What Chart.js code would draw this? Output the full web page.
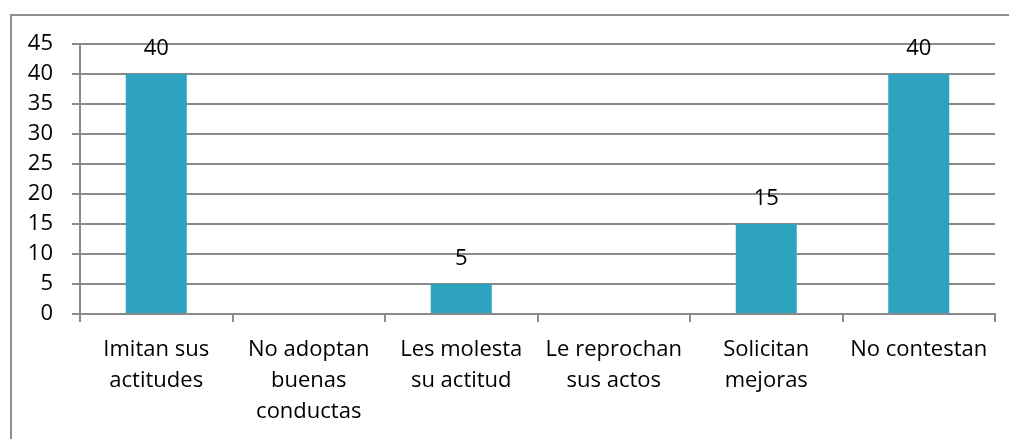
<!DOCTYPE html>
<html>
<head>
<meta charset="utf-8">
<script src="https://cdn.jsdelivr.net/npm/chart.js@4/dist/chart.umd.min.js"></script>
<style>
  html, body { margin: 0; padding: 0; background: #fff; overflow: hidden; }
  #wrap { position: relative; width: 1009px; height: 439px; }
  #frame { position: absolute; left: 10px; top: 14px; width: 1100px; height: 600px;
           border: 2px solid #8e8e8e; pointer-events: none; box-sizing: border-box; }
</style>
</head>
<body>
<div id="wrap">
  <canvas id="chart" width="1009" height="439"></canvas>
  <div id="frame"></div>
</div>
<script>
// categories (multi-line labels as in the original)
const categories = [
  ['Imitan sus', 'actitudes'],
  ['No adoptan', 'buenas', 'conductas'],
  ['Les molesta', 'su actitud'],
  ['Le reprochan', 'sus actos'],
  ['Solicitan', 'mejoras'],
  ['No contestan']
];
const values = [40, 0, 5, 0, 15, 40];
const yTicks = [0, 5, 10, 15, 20, 25, 30, 35, 40, 45];

const FONT = "'Open Sans', 'Noto Sans', sans-serif";
const FSIZE = 22;
const GRID = '#8a8a8a';

// value labels above bars (zeros are not shown)
const barLabels = {
  id: 'barLabels',
  afterDatasetsDraw(chart) {
    const ctx = chart.ctx;
    const meta = chart.getDatasetMeta(0);
    ctx.save();
    ctx.font = FSIZE + 'px ' + FONT;
    ctx.fillStyle = '#000';
    ctx.textAlign = 'center';
    ctx.textBaseline = 'middle';
    meta.data.forEach((bar, i) => {
      const v = chart.data.datasets[0].data[i];
      if (!v) return;
      ctx.fillText(String(v), bar.x, bar.y - 25);
    });
    ctx.restore();
  }
};

new Chart(document.getElementById('chart').getContext('2d'), {
  type: 'bar',
  data: {
    labels: categories,
    datasets: [{
      data: values,
      backgroundColor: '#2ea3c0',
      barPercentage: 0.4,
      categoryPercentage: 1
    }]
  },
  options: {
    responsive: false,
    animation: false,
    layout: { padding: { top: 44, right: 14, left: 0, bottom: 0 } },
    plugins: { legend: { display: false }, tooltip: { enabled: false } },
    scales: {
      x: {
        afterFit(scale) { scale.height = 125; },
        grid: { drawOnChartArea: false, drawTicks: true, tickLength: 8, color: GRID, lineWidth: 2 },
        border: { color: GRID, width: 2 },
        ticks: {
          color: '#000',
          padding: 12,
          maxRotation: 0,
          autoSkip: false,
          font: { family: FONT, size: FSIZE, lineHeight: '31px' }
        }
      },
      y: {
        min: 0,
        max: 45,
        afterFit(scale) { scale.width = 80; },
        afterBuildTicks(scale) { scale.ticks = yTicks.map(v => ({ value: v })); },
        grid: { color: GRID, lineWidth: 2, tickLength: 8 },
        border: { color: GRID, width: 2 },
        ticks: {
          color: '#000',
          padding: 19,
          font: { family: FONT, size: FSIZE }
        }
      }
    }
  },
  plugins: [barLabels]
});
</script>
</body>
</html>
